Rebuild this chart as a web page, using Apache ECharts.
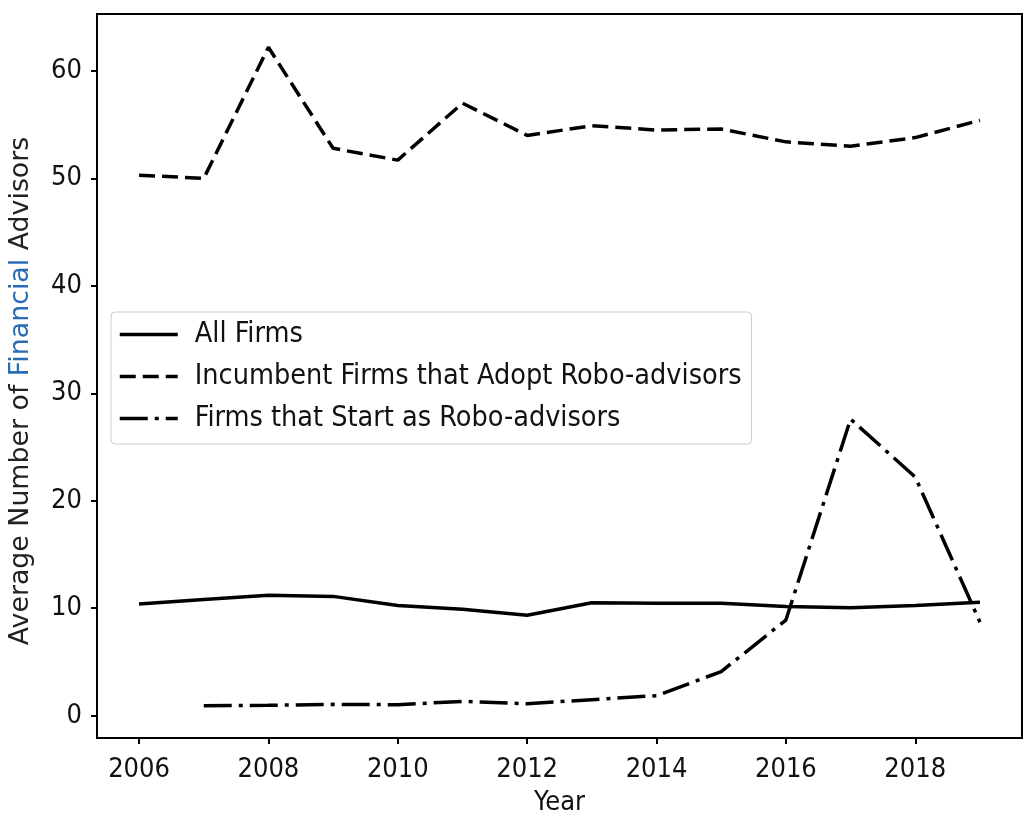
<!DOCTYPE html>
<html>
<head>
<meta charset="utf-8">
<script src="https://cdn.jsdelivr.net/npm/echarts@6/dist/echarts.min.js"></script>
<style>
  html, body { margin: 0; padding: 0; background: #fff; }
  #chart { width: 1033px; height: 818px; }
</style>
</head>
<body>
<div id="chart"></div>
<script>
// Average number of financial advisors per firm, by year
const years = [2006, 2007, 2008, 2009, 2010, 2011, 2012, 2013, 2014, 2015, 2016, 2017, 2018, 2019];
const allFirms = [10.4, 10.8, 11.2, 11.1, 10.25, 9.9, 9.35, 10.5, 10.45, 10.45, 10.15, 10.05, 10.25, 10.55];
const incumbentAdopters = [50.3, 50.0, 62.2, 52.8, 51.7, 57.0, 54.0, 54.9, 54.5, 54.6, 53.4, 53.0, 53.8, 55.4];
// Robo-advisor start-ups only appear from 2007 onward
const roboStartYears = [2007, 2008, 2009, 2010, 2011, 2012, 2013, 2014, 2015, 2016, 2017, 2018, 2019];
const roboStarters = [0.93, 0.96, 1.05, 1.02, 1.33, 1.11, 1.49, 1.86, 4.1, 8.9, 27.6, 22.2, 8.7];

const seriesNames = [
  'All Firms',
  'Incumbent Firms that Adopt Robo-advisors',
  'Firms that Start as Robo-advisors'
];
const xTicks = [2006, 2008, 2010, 2012, 2014, 2016, 2018];
const yTicks = [0, 10, 20, 30, 40, 50, 60];

const FONT = '"DejaVu Sans Condensed", "DejaVu Sans", sans-serif';
const FONT_REG = '"DejaVu Sans", sans-serif';
const LINE_W = 3.5;
const DASH = [16, 7];
const DASH_DOT = [28, 7, 4, 7];
const pairs = (xs, ys) => xs.map((x, i) => [x, ys[i]]);

const chart = echarts.init(document.getElementById('chart'), null, { renderer: 'canvas' });

const lineBase = { type: 'line', symbol: 'none', showSymbol: false, smooth: false, z: 3 };

chart.setOption({
  animation: false,
  backgroundColor: '#ffffff',
  grid: {
    left: 97, right: 11, top: 14, bottom: 80,
    outerBoundsMode: 'none',
    containLabel: false,
    show: true, borderColor: '#000', borderWidth: 2, backgroundColor: 'transparent'
  },
  legend: {
    orient: 'vertical',
    left: 111, top: 312,
    padding: [7, 10, 10, 7],
    itemWidth: 58, itemHeight: 14, itemGap: 11,
    backgroundColor: 'rgba(255,255,255,0.85)',
    borderColor: '#cccccc', borderWidth: 1, borderRadius: 4,
    itemStyle: { opacity: 0 },
    lineStyle: { width: LINE_W },
    textStyle: { fontFamily: FONT, fontSize: 28.5, color: '#111', padding: [0, 0, 0, 12], lineHeight: 31 },
    data: [
      { name: seriesNames[0], lineStyle: { width: LINE_W, type: 'solid', color: '#000' } },
      { name: seriesNames[1], lineStyle: { width: LINE_W, type: DASH, color: '#000' } },
      { name: seriesNames[2], lineStyle: { width: LINE_W, type: DASH_DOT, color: '#000' } }
    ]
  },
  xAxis: {
    type: 'value',
    min: 2005.35, max: 2019.65,
    name: 'Year',
    nameLocation: 'middle',
    nameGap: 51,
    nameTextStyle: { fontFamily: FONT, fontSize: 27, color: '#111' },
    axisLine: { show: true, onZero: false, lineStyle: { color: '#000', width: 2 } },
    axisTick: { show: true, inside: false, length: 6, lineStyle: { color: '#000', width: 2 }, customValues: xTicks },
    axisLabel: { fontFamily: FONT, fontSize: 27, color: '#111', margin: 18, customValues: xTicks, formatter: v => String(v) },
    splitLine: { show: false }
  },
  yAxis: {
    type: 'value',
    min: -2.08, max: 65.3,
    name: '{a|Average Number of }{b|Financial}{a| Advisors}',
    nameLocation: 'middle',
    nameGap: 62,
    nameRotate: 90,
    nameTextStyle: {
      fontFamily: FONT_REG, fontSize: 26.8, color: '#222',
      padding: [0, 30, 0, 0],
      rich: {
        a: { fontFamily: FONT_REG, fontSize: 26.8, color: '#222' },
        b: { fontFamily: FONT_REG, fontSize: 26.8, color: '#2a6bb5' }
      }
    },
    axisLine: { show: true, onZero: false, lineStyle: { color: '#000', width: 2 } },
    axisTick: { show: true, inside: false, length: 6, lineStyle: { color: '#000', width: 2 }, customValues: yTicks },
    axisLabel: { fontFamily: FONT, fontSize: 27, color: '#111', margin: 15, customValues: yTicks },
    splitLine: { show: false }
  },
  series: [
    Object.assign({}, lineBase, {
      name: seriesNames[0],
      data: pairs(years, allFirms),
      lineStyle: { color: '#000', width: LINE_W, type: 'solid' },
      itemStyle: { color: '#000' }
    }),
    Object.assign({}, lineBase, {
      name: seriesNames[1],
      data: pairs(years, incumbentAdopters),
      lineStyle: { color: '#000', width: LINE_W, type: DASH },
      itemStyle: { color: '#000' }
    }),
    Object.assign({}, lineBase, {
      name: seriesNames[2],
      data: pairs(roboStartYears, roboStarters),
      lineStyle: { color: '#000', width: LINE_W, type: DASH_DOT },
      itemStyle: { color: '#000' }
    })
  ]
});
</script>
</body>
</html>
